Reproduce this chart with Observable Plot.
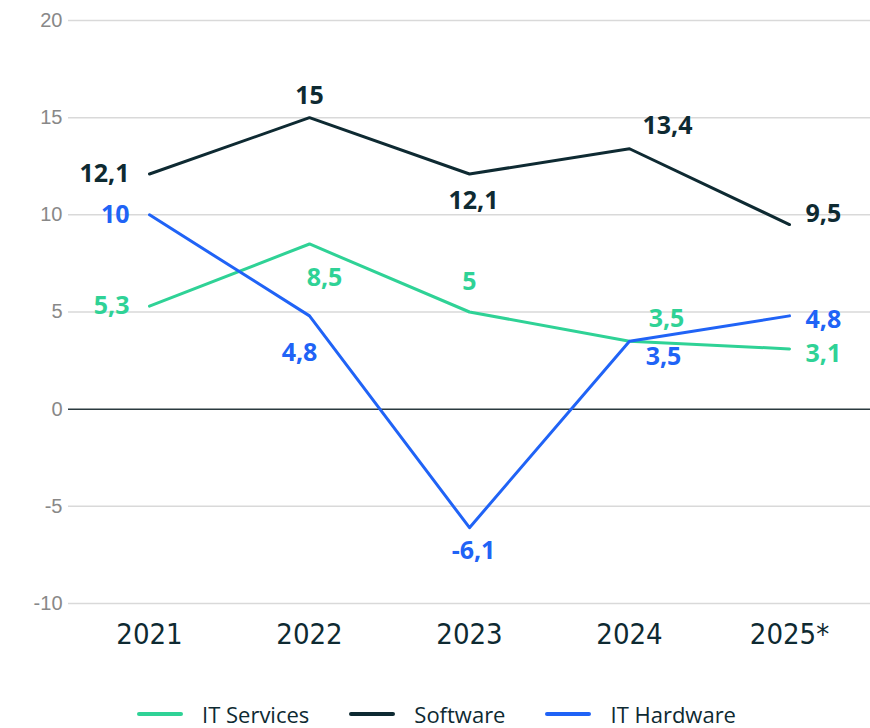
<!DOCTYPE html>
<html><head><meta charset="utf-8">
<script src="https://cdn.jsdelivr.net/npm/d3@7"></script>
<script src="https://cdn.jsdelivr.net/npm/@observablehq/plot@0.6"></script>
<style>
body{margin:0;background:#fff;width:870px;height:728px;overflow:hidden;}
#legend{display:flex;align-items:center;margin-left:137px;margin-top:22px;height:24px;line-height:24px;font-family:"Open Sans",sans-serif;font-size:22px;color:#0e2a32;}
.item{display:flex;align-items:center;margin-right:40px;}
.sw{width:46px;height:4px;border-radius:2px;margin-right:19px;}
</style></head><body><div id="chart"></div><div id="legend"></div><script>
const years = ["2021","2022","2023","2024","2025*"];
const itServices = [5.3, 8.5, 5, 3.5, 3.1];
const software = [12.1, 15, 12.1, 13.4, 9.5];
const itHardware = [10, 4.8, -6.1, 3.5, 4.8];
const seriesNames = ["IT Services", "Software", "IT Hardware"];
const yTicks = [-10, -5, 0, 5, 10, 15, 20];

const colors = {"IT Services": "#2fd296", "Software": "#0e2a32", "IT Hardware": "#2063f6"};
// label placement (dx, dy, anchor) per series per year
const placement = {
  "Software":   [[-20,0,"end"],[0,-22,"middle"],[4,27,"middle"],[38,-23,"middle"],[16,-11,"start"]],
  "IT Services":[[-20,0,"end"],[15,34,"middle"],[0,-30,"middle"],[37,-22,"middle"],[16,5,"start"]],
  "IT Hardware":[[-20,0,"end"],[-10,37,"middle"],[4,23,"middle"],[34,16,"middle"],[16,4,"start"]]
};
const seriesValues = [itServices, software, itHardware];
const rows = [];
seriesNames.forEach((s, si) => years.forEach((y, i) => rows.push({series: s, year: y, value: seriesValues[si][i], idx: i})));
const fmt = v => String(v).replace(".", ",");

const labelMarks = rows.map(r => {
  const [dx, dy, anchor] = placement[r.series][r.idx];
  return Plot.text([r], {x: "year", y: "value", text: d => fmt(d.value), dx, dy, textAnchor: anchor,
    fill: colors[r.series], fontFamily: "Open Sans", fontWeight: 700, fontSize: 25});
});

const chart = Plot.plot({
  width: 870, height: 680,
  marginLeft: 68, marginRight: 0, marginTop: 20, marginBottom: 77,
  x: {type: "point", domain: years, padding: 0.5, label: null},
  y: {domain: [-10, 20], ticks: yTicks, label: null},
  style: {background: "white"},
  marks: [
    Plot.ruleY(yTicks.filter(t => t !== 0), {stroke: "#d9d9d9", strokeWidth: 1.5}),
    Plot.ruleY([0], {stroke: "#2b3a3f", strokeWidth: 1.5}),
    Plot.axisY({ticks: yTicks, tickSize: 0, tickPadding: 6, fontSize: 20, fontFamily: "Liberation Sans", fill: "#888", tickFormat: d => d}),
    Plot.axisX({tickSize: 0, tickPadding: 20, fontSize: 29, fontFamily: "DejaVu Sans Condensed, Roboto", fill: "#0e2a32"}),
    Plot.line(rows, {x: "year", y: "value", z: "series", stroke: d => colors[d.series], strokeWidth: 3}),
    ...labelMarks
  ]
});
document.getElementById("chart").appendChild(chart);

const legend = document.getElementById("legend");
seriesNames.forEach(s => {
  const it = document.createElement("div"); it.className = "item";
  const sw = document.createElement("div"); sw.className = "sw"; sw.style.background = colors[s];
  const t = document.createElement("span"); t.textContent = s;
  it.appendChild(sw); it.appendChild(t); legend.appendChild(it);
});
</script></body></html>
